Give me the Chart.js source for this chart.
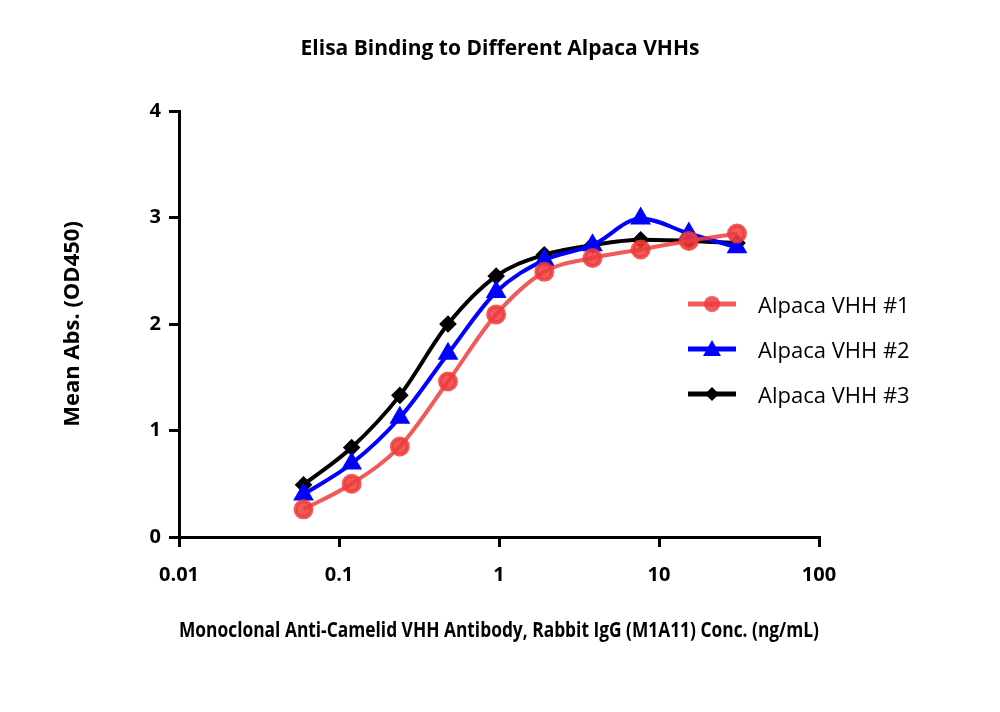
<!DOCTYPE html>
<html><head><meta charset="utf-8">
<script src="https://cdn.jsdelivr.net/npm/chart.js@4/dist/chart.umd.min.js"></script>
<style>
body{margin:0;background:#fff;font-family:"Open Sans",sans-serif}
#wrap{position:relative;width:1000px;height:712px}
#title{position:absolute;top:33px;left:0;width:1000px;text-align:center;font-weight:bold;font-size:21px}
#legend{position:absolute;left:688px;top:281px;font-size:22px}
#legend div{height:45px;display:flex;align-items:center}
#legend canvas{margin-right:22px}
</style></head><body>
<div id="wrap">
<div id="title">Elisa Binding to Different Alpaca VHHs</div>
<canvas id="c" width="1000" height="712"></canvas>
<div id="legend"></div>
</div>
<script>
const conc = [0.06, 0.12, 0.24, 0.48, 0.96, 1.92, 3.84, 7.68, 15.36, 30.72];
const vhh1 = [0.26, 0.50, 0.85, 1.46, 2.09, 2.49, 2.62, 2.70, 2.78, 2.85];
const vhh2 = [0.40, 0.69, 1.12, 1.72, 2.30, 2.60, 2.74, 2.99, 2.85, 2.72];
const vhh3 = [0.49, 0.84, 1.33, 2.00, 2.45, 2.65, 2.74, 2.79, 2.78, 2.76];
const seriesNames = ['Alpaca VHH #1', 'Alpaca VHH #2', 'Alpaca VHH #3'];
const xTicks = [0.01, 0.1, 1, 10, 100];

const FONT = 'Open Sans';
const styles = [
  {line: 'rgba(240,60,60,0.85)', pt: 'rgba(240,60,60,0.85)', shape: 'circle', r: 8},
  {line: '#0000ff', pt: '#0000ff', shape: 'triangle', r: 8},
  {line: '#000000', pt: '#000000', shape: 'rectRot', r: 6}
];
const allVals = [vhh1, vhh2, vhh3];
const datasets = allVals.map((v, i) => ({
  label: seriesNames[i],
  data: conc.map((x, j) => ({x: x, y: v[j]})),
  borderColor: styles[i].line, backgroundColor: styles[i].pt,
  pointStyle: styles[i].shape, pointRadius: styles[i].r,
  borderWidth: 4, cubicInterpolationMode: 'monotone', showLine: true
}));

new Chart(document.getElementById('c'), {
  type: 'scatter',
  data: {datasets: datasets},
  options: {
    responsive: false, animation: false,
    layout: {padding: {top: 111, right: 181, left: 0, bottom: 0}},
    plugins: {legend: {display: false}, tooltip: {enabled: false}},
    scales: {
      x: {
        type: 'logarithmic', min: 0.01, max: 100,
        afterFit: s => { s.height = 175; },
        afterBuildTicks: s => { s.ticks = xTicks.map(v => ({value: v})); },
        ticks: {color: '#000', font: {family: FONT, size: 20, weight: 'bold'}, padding: 16, maxRotation: 0,
          callback: v => String(v)},
        grid: {drawOnChartArea: false, color: '#000', lineWidth: 3, tickLength: 10},
        border: {color: '#000', width: 3},
        title: {display: true, text: 'Monoclonal Anti-Camelid VHH Antibody, Rabbit IgG (M1A11) Conc. (ng/mL)',
          color: '#000', font: {family: FONT, size: 22, weight: 'bold'}, padding: {top: 0, bottom: 68}}
      },
      y: {
        min: 0, max: 4,
        afterFit: s => { s.width = 179; },
        ticks: {stepSize: 1, color: '#000', font: {family: FONT, size: 20, weight: 'bold'}, padding: 8},
        grid: {drawOnChartArea: false, color: '#000', lineWidth: 3, tickLength: 10},
        border: {color: '#000', width: 3},
        title: {display: true, text: 'Mean Abs. (OD450)', color: '#000',
          font: {family: FONT, size: 22, weight: 'bold'}, padding: {top: 0, bottom: 0}}
      }
    }
  },
  plugins: [{
    id: 'yTitleShift',
    beforeDraw: ch => { ch.scales.y.options.title.padding = {top: 60, bottom: 0}; }
  }]
});

// legend
const leg = document.getElementById('legend');
seriesNames.forEach((n, i) => {
  const row = document.createElement('div');
  const cv = document.createElement('canvas');
  cv.width = 48; cv.height = 24;
  const g = cv.getContext('2d');
  g.strokeStyle = styles[i].line; g.lineWidth = 5;
  g.beginPath(); g.moveTo(0, 12); g.lineTo(48, 12); g.stroke();
  g.fillStyle = styles[i].pt; g.beginPath();
  if (i === 0) g.arc(24, 12, 8, 0, Math.PI * 2);
  else if (i === 1) { g.moveTo(24, 3); g.lineTo(33, 19); g.lineTo(15, 19); }
  else { g.moveTo(24, 5); g.lineTo(31, 12); g.lineTo(24, 19); g.lineTo(17, 12); }
  g.fill();
  row.appendChild(cv);
  row.appendChild(document.createTextNode(n));
  leg.appendChild(row);
});
</script>
</body></html>
